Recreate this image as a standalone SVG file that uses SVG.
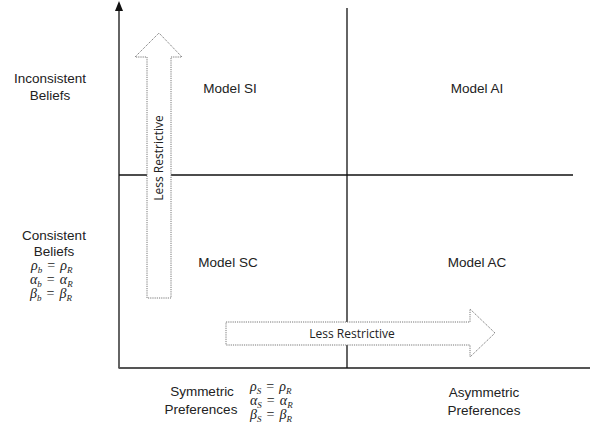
<svg xmlns="http://www.w3.org/2000/svg" width="593" height="433" viewBox="0 0 593 433">
<style>
.lbl{font-family:"Liberation Sans",Arial,sans-serif;font-size:13.5px;fill:#222;text-anchor:middle}
.cal{font-family:"Open Sans","Liberation Sans",sans-serif;font-size:12px;fill:#222;text-anchor:middle}
.eq{font-family:"Liberation Serif","Times New Roman",serif;font-size:14px;fill:#222;font-style:italic}
.eq .s{font-size:9px}
.eq .o{font-style:normal}
.ax{stroke:#111;stroke-width:1.3;fill:none}
.blk{fill:#fff;stroke:#777;stroke-width:1;stroke-dasharray:1.2 1}
</style>
<g id="connectors">
<line class="ax" x1="119" y1="368" x2="119" y2="8"/>
<polygon points="115,11 119,1 123,11" fill="#111"/>
<line x1="118.5" y1="368" x2="590" y2="368" stroke="#555" stroke-width="2"/>
<line class="ax" x1="347" y1="8" x2="347" y2="368"/>
<line class="ax" x1="119" y1="175" x2="573" y2="175"/>
</g>
<g id="arrow-vertical">
<polygon class="blk" points="147,298 147,57 135,57 159,33 182,57 171,57 171,298"/>
<text class="cal" transform="translate(163,158) rotate(-90)">Less Restrictive</text>
</g>
<g id="arrow-horizontal">
<polygon class="blk" points="226,322 470,322 470,309 495,333 470,357 470,345 226,345"/>
<text class="cal" x="352" y="338">Less Restrictive</text>
</g>
<g id="inconsistent-beliefs">
<text class="lbl" x="50" y="83">Inconsistent</text>
<text class="lbl" x="50" y="100">Beliefs</text>
</g>
<g id="consistent-beliefs">
<text class="lbl" x="54" y="240">Consistent</text>
<text class="lbl" x="54" y="256">Beliefs</text>
<text class="eq" x="31" y="270">ρ<tspan class="s" dy="2.5">b</tspan><tspan class="o" dx="5" dy="-2.5">=</tspan><tspan dx="5">ρ</tspan><tspan class="s" dy="2.5">R</tspan></text>
<text class="eq" x="30" y="284">α<tspan class="s" dy="2.5">b</tspan><tspan class="o" dx="5" dy="-2.5">=</tspan><tspan dx="5">α</tspan><tspan class="s" dy="2.5">R</tspan></text>
<text class="eq" x="30" y="298">β<tspan class="s" dy="2.5">b</tspan><tspan class="o" dx="5" dy="-2.5">=</tspan><tspan dx="5">β</tspan><tspan class="s" dy="2.5">R</tspan></text>
</g>
<g id="model-si"><text class="lbl" x="230" y="93">Model SI</text></g>
<g id="model-ai"><text class="lbl" x="477" y="93">Model AI</text></g>
<g id="model-sc"><text class="lbl" x="228" y="267">Model SC</text></g>
<g id="model-ac"><text class="lbl" x="477" y="267">Model AC</text></g>
<g id="symmetric-preferences">
<text class="lbl" x="202" y="396">Symmetric</text>
<text class="lbl" x="201" y="414">Preferences</text>
<text class="eq" x="250" y="391">ρ<tspan class="s" dy="2.5">S</tspan><tspan class="o" dx="5" dy="-2.5">=</tspan><tspan dx="5">ρ</tspan><tspan class="s" dy="2.5">R</tspan></text>
<text class="eq" x="250" y="405">α<tspan class="s" dy="2.5">S</tspan><tspan class="o" dx="5" dy="-2.5">=</tspan><tspan dx="5">α</tspan><tspan class="s" dy="2.5">R</tspan></text>
<text class="eq" x="250" y="419">β<tspan class="s" dy="2.5">S</tspan><tspan class="o" dx="5" dy="-2.5">=</tspan><tspan dx="5">β</tspan><tspan class="s" dy="2.5">R</tspan></text>
</g>
<g id="asymmetric-preferences">
<text class="lbl" x="484" y="397">Asymmetric</text>
<text class="lbl" x="484" y="415">Preferences</text>
</g>
</svg>
